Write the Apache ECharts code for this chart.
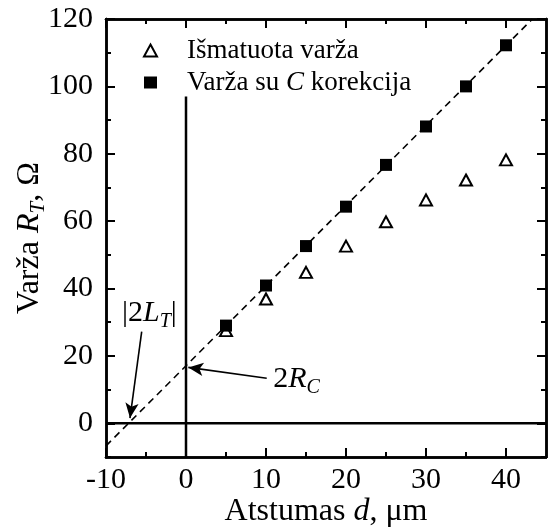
<!DOCTYPE html>
<html><head><meta charset="utf-8">
<script src="https://cdn.jsdelivr.net/npm/echarts@6/dist/echarts.min.js"></script>
<style>html,body{margin:0;padding:0;background:#fff}#c{width:555px;height:532px}</style>
</head><body><div id="c"></div>
<script>
const distances = [5, 10, 15, 20, 25, 30, 35, 40];
const measured = [27.5, 36.9, 44.8, 52.6, 59.8, 66.3, 72.2, 78.2];
const corrected = [29.0, 40.9, 52.6, 64.3, 76.7, 88.1, 100.0, 112.2];
const fitX = [-10, 43.3];
const fitY = [-6.7, 120];
const zeroLineX = [-10, 45];
const zeroLineY = [0, 0];
const vLineX = [0, 0];
const vLineY = [-10, 97];
const xMajorTicks = [-10, 0, 10, 20, 30, 40];
const xMinorTicks = [-5, 5, 15, 25, 35];
const yMajorTicks = [0, 20, 40, 60, 80, 100, 120];
const yMinorTicks = [-10, 10, 30, 50, 70, 90, 110];
const seriesNames = ['Išmatuota varža', 'Varža su C korekcija'];
const arrowLT = [[-5.54, 27.2], [-7.0, 1.57]];
const arrowRC = [[10.09, 13.36], [0.29, 16.6]];
const labelLT = [-8.0, 32.7];
const labelRC = [10.9, 13.1];

const FONT = 'Liberation Serif';
const black = '#000';
const zip = (a, b) => a.map((v, i) => [v, b[i]]);

function xAx(grid, pos, ticks, len, labels) {
  return {
    type: 'value', gridIndex: grid, position: pos, min: -10, max: 45, interval: 5,
    axisLine: { show: true, onZero: false, lineStyle: { color: black, width: 2.5 } },
    axisTick: { show: true, inside: true, length: len, customValues: ticks, lineStyle: { color: black, width: 2 } },
    axisLabel: labels ? { show: true, customValues: ticks, margin: 8, color: black, fontSize: 30, fontFamily: FONT } : { show: false },
    splitLine: { show: false }
  };
}
function yAx(grid, pos, ticks, len, labels) {
  return {
    type: 'value', gridIndex: grid, position: pos, min: -10, max: 120, interval: 10,
    axisLine: { show: true, onZero: false, lineStyle: { color: black, width: 2.5 } },
    axisTick: { show: true, inside: true, length: len, customValues: ticks, lineStyle: { color: black, width: 2 } },
    axisLabel: labels ? { show: true, customValues: ticks, margin: 13, color: black, fontSize: 30, fontFamily: FONT } : { show: false },
    splitLine: { show: false }
  };
}

const xAxes = [
  xAx(0, 'bottom', xMajorTicks, 9, true),
  xAx(0, 'top', xMajorTicks, 9, false),
  xAx(1, 'bottom', xMinorTicks, 5, false),
  xAx(1, 'top', xMinorTicks, 5, false)
];
Object.assign(xAxes[0], {
  name: 'Atstumas {i|d}, μm', nameLocation: 'middle', nameGap: 39, nameMoveOverlap: false,
  nameTextStyle: { color: black, fontSize: 32, fontFamily: FONT, rich: { i: { fontStyle: 'italic', fontSize: 32, fontFamily: FONT, color: black } } }
});
const yAxes = [
  yAx(0, 'left', yMajorTicks, 9, true),
  yAx(0, 'right', yMajorTicks, 9, false),
  yAx(1, 'left', yMinorTicks, 5, false),
  yAx(1, 'right', yMinorTicks, 5, false)
];
Object.assign(yAxes[0], {
  name: 'Varža {i|R}{s|T}, Ω', nameLocation: 'middle', nameGap: 57, nameRotate: 90, nameMoveOverlap: false,
  nameTextStyle: { color: black, fontSize: 32, fontFamily: FONT, rich: {
    i: { fontStyle: 'italic', fontSize: 32, fontFamily: FONT, color: black },
    s: { fontStyle: 'italic', fontSize: 21, fontFamily: FONT, color: black, padding: [17, 0, 0, 0] }
  } }
});

const annRich = {
  n: { fontSize: 30, fontFamily: FONT, color: black },
  i: { fontSize: 30, fontFamily: FONT, fontStyle: 'italic', color: black },
  s: { fontSize: 20, fontFamily: FONT, fontStyle: 'italic', color: black, padding: [18, 0, 0, 0] }
};

const gridBox = { left: 106, right: 9, top: 19, bottom: 75, containLabel: false, outerBoundsMode: 'none' };

const chart = echarts.init(document.getElementById('c'), null, { renderer: 'canvas' });
chart.setOption({
  animation: false,
  backgroundColor: '#fff',
  textStyle: { fontFamily: FONT, color: black },
  grid: [ Object.assign({}, gridBox), Object.assign({}, gridBox) ],
  xAxis: xAxes,
  yAxis: yAxes,
  legend: {
    data: seriesNames, orient: 'vertical', left: 138, top: 32, itemWidth: 13, itemHeight: 12, itemGap: 5,
    formatter: n => n === seriesNames[1] ? 'Varža su {i|C} korekcija' : n,
    textStyle: { color: black, fontSize: 27, fontFamily: FONT, padding: [0, 0, 0, 25],
      rich: { i: { fontStyle: 'italic', fontSize: 27, fontFamily: FONT, color: black } } }
  },
  series: [
    { type: 'line', name: 'fit', data: zip(fitX, fitY), symbol: 'none', silent: true,
      lineStyle: { color: black, width: 1.6, type: [7, 5], opacity: 1 }, z: 1 },
    { type: 'line', name: 'zero', data: zip(zeroLineX, zeroLineY), symbol: 'none', silent: true,
      lineStyle: { color: black, width: 2.5, opacity: 1 }, z: 1 },
    { type: 'line', name: 'vline', data: zip(vLineX, vLineY), symbol: 'none', silent: true,
      lineStyle: { color: black, width: 2.5, opacity: 1 }, z: 1,
      markLine: { silent: true, symbol: ['none', 'arrow'], symbolSize: [10, 15], animation: false,
        lineStyle: { color: black, width: 1.6, type: 'solid', opacity: 1 }, label: { show: false },
        itemStyle: { color: black, opacity: 1 },
        data: [
          [{ coord: arrowLT[0] }, { coord: arrowLT[1] }],
          [{ coord: arrowRC[0] }, { coord: arrowRC[1] }]
        ] } },
    { type: 'scatter', name: 'ann', silent: true, symbolSize: 0, z: 5,
      itemStyle: { opacity: 1 },
      data: [
        { value: labelLT, label: { formatter: '{n||2}{i|L}{s|T}{n||}' } },
        { value: labelRC, label: { formatter: '{n|2}{i|R}{s|C}' } }
      ],
      label: { show: true, position: 'right', distance: 0, color: black, opacity: 1, rich: annRich } },
    { type: 'scatter', name: seriesNames[0], data: zip(distances, measured), symbol: 'triangle', symbolSize: [12, 11],
      itemStyle: { color: '#fff', borderColor: black, borderWidth: 2, opacity: 1 }, z: 3 },
    { type: 'scatter', name: seriesNames[1], data: zip(distances, corrected), symbol: 'rect', symbolSize: 12,
      itemStyle: { color: black, opacity: 1 }, z: 4 }
  ]
});
</script>
</body></html>
